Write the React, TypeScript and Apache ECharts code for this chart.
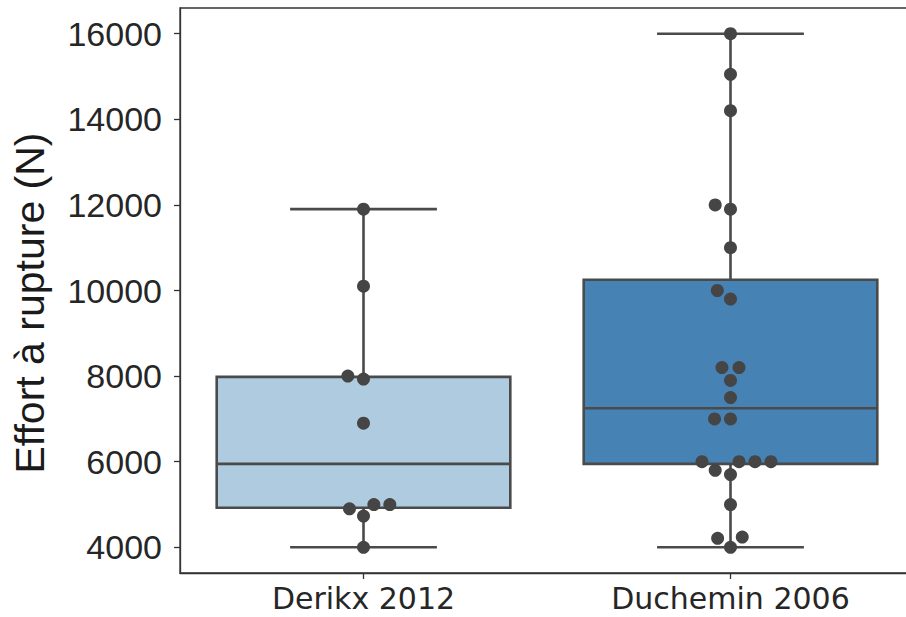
import React, { useEffect, useRef } from 'react';
import * as echarts from 'echarts';

const categories = ['Derikx 2012', 'Duchemin 2006'];
const derikxValues = [11900, 10100, 8000, 7930, 6900, 5000, 5000, 4900, 4730, 4000];
const ducheminValues = [16000, 15050, 14200, 12000, 11900, 11000, 10000, 9800, 8200, 8200, 7900, 7500, 7000, 7000, 6000, 6000, 6000, 6000, 5800, 5700, 5000, 4240, 4210, 4000];
const yTicks = [4000, 6000, 8000, 10000, 12000, 14000, 16000];
const boxColors = ['#aecbdf', '#4682b4'];
const yLabel = 'Effort à rupture (N)';

const Y_MIN = 3400;
const Y_MAX = 16600;
const GRID_LEFT = 180;
const GRID_TOP = 8;
const GRID_W = 734;
const GRID_H = 565;
const LINE_COLOR = '#4a4a4a';
const DOT_COLOR = '#454545';

function quantile(s: number[], p: number) {
  const pos = (s.length - 1) * p;
  const lo = Math.floor(pos);
  const hi = Math.ceil(pos);
  return s[lo] + (s[hi] - s[lo]) * (pos - lo);
}

function boxStats(values: number[]) {
  const s = [...values].sort((a, b) => a - b);
  const q1 = quantile(s, 0.25);
  const med = quantile(s, 0.5);
  const q3 = quantile(s, 0.75);
  const iqr = q3 - q1;
  const lo = s.find((v) => v >= q1 - 1.5 * iqr) as number;
  const hi = [...s].reverse().find((v) => v <= q3 + 1.5 * iqr) as number;
  return [lo, q1, med, q3, hi];
}

function swarmOffsets(values: number[], pxPerUnit: number, r: number) {
  const order = values.map((_, i) => i).sort((a, b) => values[a] - values[b]);
  const placed: { x: number; y: number }[] = [];
  const offsets = new Array(values.length).fill(0);
  for (const i of order) {
    const y = values[i] * pxPerUnit;
    const neighbors: { x: number; y: number }[] = [];
    for (let k = placed.length - 1; k >= 0; k--) {
      if (y - placed[k].y < 2 * r) neighbors.push(placed[k]);
      else break;
    }
    const cands: number[] = [0];
    let leftFirst = true;
    for (const n of neighbors) {
      const dy = y - n.y;
      const dx = Math.sqrt(Math.max(4 * r * r - dy * dy, 0)) * 1.05;
      const cl = n.x - dx;
      const cr = n.x + dx;
      if (leftFirst) cands.push(cl, cr);
      else cands.push(cr, cl);
      leftFirst = !leftFirst;
    }
    const sorted = cands
      .map((c, k) => ({ c, k }))
      .sort((a, b) => Math.abs(a.c) - Math.abs(b.c) || a.k - b.k)
      .map((o) => o.c);
    let chosen = sorted[0];
    for (const c of sorted) {
      if (neighbors.every((n) => (n.x - c) ** 2 + (n.y - y) ** 2 >= 4 * r * r - 1e-6)) {
        chosen = c;
        break;
      }
    }
    placed.push({ x: chosen, y });
    offsets[i] = chosen;
  }
  return offsets;
}

export default function App() {
  const ref = useRef<HTMLDivElement>(null);
  useEffect(() => {
    if (!ref.current) return;
    const chart = echarts.init(ref.current, undefined, { renderer: 'svg' });
    const groups = [derikxValues, ducheminValues];
    const stats = groups.map((g, i) => [i, ...boxStats(g)]);
    const pxPerUnit = GRID_H / (Y_MAX - Y_MIN);
    const scatterData: any[] = [];
    groups.forEach((g, ci) => {
      const offs = swarmOffsets(g, pxPerUnit, 7.6);
      g.forEach((v, k) => {
        scatterData.push({ value: [ci, v], symbolOffset: [offs[k], 0] });
      });
    });

    chart.setOption({
      animation: false,
      grid: {
        left: GRID_LEFT,
        top: GRID_TOP,
        width: GRID_W,
        height: GRID_H,
        show: true,
        borderColor: '#333',
        borderWidth: 1.3,
        backgroundColor: 'transparent',
      },
      xAxis: {
        type: 'category',
        data: categories,
        axisLine: { show: true, lineStyle: { color: '#333', width: 1.3 } },
        axisTick: { show: true, alignWithLabel: true, length: 6, lineStyle: { color: '#333', width: 1.3 } },
        axisLabel: { fontFamily: 'DejaVu Sans', fontSize: 30, color: '#262626', margin: 10 },
        splitLine: { show: false },
      },
      yAxis: {
        type: 'value',
        min: Y_MIN,
        max: Y_MAX,
        axisLine: { show: true, lineStyle: { color: '#333', width: 1.3 } },
        axisTick: { show: true, length: 6, customValues: yTicks, lineStyle: { color: '#333', width: 1.3 } },
        axisLabel: {
          fontFamily: 'Liberation Sans',
          fontSize: 34,
          color: '#262626',
          margin: 18,
          customValues: yTicks,
          formatter: (v: number) => String(v),
        },
        splitLine: { show: false },
      },
      graphic: [
        {
          type: 'text',
          x: 30,
          y: 303,
          rotation: Math.PI / 2,
          style: {
            text: yLabel,
            fontFamily: 'Liberation Sans',
            fontSize: 41,
            fill: '#1a1a1a',
            align: 'center',
            verticalAlign: 'middle',
          },
        },
      ],
      series: [
        {
          type: 'custom',
          data: stats,
          encode: { x: 0, y: [1, 2, 3, 4, 5] },
          z: 2,
          renderItem: (params: any, api: any) => {
            const ci = api.value(0);
            const lo = api.coord([ci, api.value(1)]);
            const q1 = api.coord([ci, api.value(2)]);
            const med = api.coord([ci, api.value(3)]);
            const q3 = api.coord([ci, api.value(4)]);
            const hi = api.coord([ci, api.value(5)]);
            const band = api.size([1, 0])[0];
            const bw = band * 0.4;
            const cw = band * 0.2;
            const x = lo[0];
            const ls = { stroke: LINE_COLOR, lineWidth: 2.6 };
            return {
              type: 'group',
              children: [
                { type: 'line', shape: { x1: x, y1: q3[1], x2: x, y2: hi[1] }, style: ls },
                { type: 'line', shape: { x1: x, y1: q1[1], x2: x, y2: lo[1] }, style: ls },
                { type: 'line', shape: { x1: x - cw, y1: hi[1], x2: x + cw, y2: hi[1] }, style: ls },
                { type: 'line', shape: { x1: x - cw, y1: lo[1], x2: x + cw, y2: lo[1] }, style: ls },
                {
                  type: 'rect',
                  shape: { x: x - bw, y: q3[1], width: 2 * bw, height: q1[1] - q3[1] },
                  style: { fill: boxColors[params.dataIndex], stroke: LINE_COLOR, lineWidth: 2.6 },
                },
                { type: 'line', shape: { x1: x - bw, y1: med[1], x2: x + bw, y2: med[1] }, style: ls },
              ],
            };
          },
        },
        {
          type: 'scatter',
          data: scatterData,
          symbol: 'circle',
          symbolSize: 13,
          z: 5,
          itemStyle: { color: DOT_COLOR, opacity: 1 },
        },
      ],
    });
    return () => chart.dispose();
  }, []);
  return (
    <div style={{ position: 'absolute', left: 0, top: 0, width: 906, height: 617, overflow: 'hidden' }}>
      <div ref={ref} style={{ width: 924, height: 617 }} />
    </div>
  );
}
